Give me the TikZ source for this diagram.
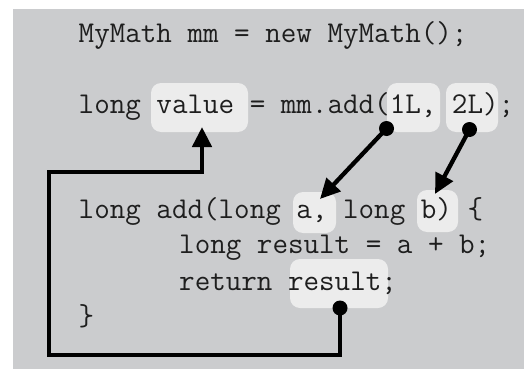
\documentclass[tikz,border=0pt]{standalone}
\usetikzlibrary{arrows.meta}
\definecolor{bggray}{RGB}{203,204,206}
\definecolor{hlgray}{RGB}{236,236,236}
\definecolor{codeink}{RGB}{30,30,30}
\begin{document}
\begin{tikzpicture}[x=1pt,y=-1pt,
  codeline/.style={anchor=base west,inner sep=0pt,text=codeink,
    font=\ttfamily\fontsize{30.2}{36}\selectfont},
  hlbox/.style={draw=none,fill=hlgray,rounded corners=10pt,inner sep=0pt},
  dotmark/.style={circle,fill=black,inner sep=0pt,minimum size=15pt},
  conn/.style={line width=4.3pt,draw=black,-{Triangle[length=20pt,width=19pt]}},
  retpath/.style={line width=4.6pt,draw=black,line join=miter,-{Triangle[length=20pt,width=19pt]}}
]
\useasboundingbox (0,0) rectangle (524,369);
\fill[bggray] (13,9) rectangle (524,369);
% highlight boxes
\node[hlbox,minimum width=97pt,minimum height=49pt] (valbox) at (199.5,107.5) {};
\node[hlbox,minimum width=53pt,minimum height=49pt] (onebox) at (413.5,107.5) {};
\node[hlbox,minimum width=52pt,minimum height=49pt] (twobox) at (472,107.5) {};
\node[hlbox,minimum width=43pt,minimum height=41pt] (abox) at (314.5,212.5) {};
\node[hlbox,minimum width=41pt,minimum height=42pt] (bbox) at (437.5,211) {};
\node[hlbox,minimum width=98pt,minimum height=49pt] (resbox) at (339,283.5) {};
% code lines
\node[codeline] (l1) at (78.5,42) {MyMath mm = new MyMath();};
\node[codeline] (l2) at (78.5,113) {long value = mm.add(1L, 2L);};
\node[codeline] (l3) at (78.5,218) {long add(long a, long b) \{};
\node[codeline] (l4) at (179,253) {long result = a + b;};
\node[codeline] (l5) at (179,290) {return result;};
\node[codeline] (l6) at (78.5,325) {\}};
% dots
\node[dotmark] (d1) at (386.5,128.5) {};
\node[dotmark] (d2) at (469.5,129.5) {};
\node[dotmark] (d3) at (340,308) {};
% arrow ends and corners
\coordinate (tipA) at (320,199);
\coordinate (tipB) at (435,194);
\coordinate (c1) at (340,355);
\coordinate (c2) at (49,355);
\coordinate (c3) at (49,172);
\coordinate (c4) at (202,172);
\coordinate (tipV) at (202,127);
% connectors
\draw[conn] (d1.center) -- (tipA);
\draw[conn] (d2.center) -- (tipB);
\draw[retpath] (d3.center) -- (c1) -- (c2) -- (c3) -- (c4) -- (tipV);
\end{tikzpicture}
\end{document}
